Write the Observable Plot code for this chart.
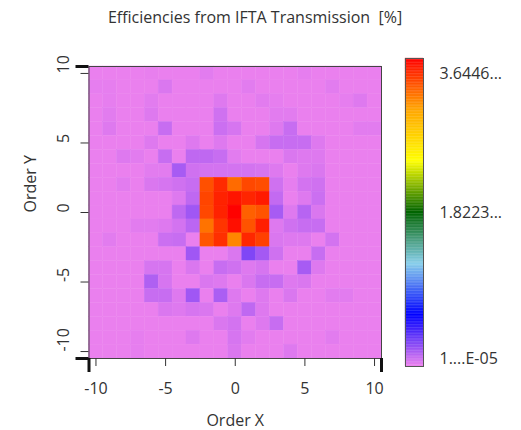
<!DOCTYPE html>
<html>
<head>
<meta charset="utf-8">
<script src="https://cdn.jsdelivr.net/npm/d3@7"></script>
<script src="https://cdn.jsdelivr.net/npm/@observablehq/plot@0.6"></script>
<style>
  html, body { margin: 0; padding: 0; background: #fff; }
  #wrap { position: relative; width: 521px; height: 430px; font-family: "Open Sans", sans-serif; color: #333; }
  #title { position: absolute; left: 0; top: 6px; width: 510px; text-align: center; font-size: 16px; line-height: 22px; white-space: pre; color: #333; }
  #main { position: absolute; left: 0; top: 35px; }
  #bar { position: absolute; left: 390px; top: 40px; }
</style>
</head>
<body>
<div id="wrap">
  <div id="title"></div>
  <div id="main"></div>
  <div id="bar"></div>
</div>
<script>
const titleText = "Efficiencies from IFTA Transmission  [%]";
const xLabel = "Order X";
const yLabel = "Order Y";
const orderX = [-10,-9,-8,-7,-6,-5,-4,-3,-2,-1,0,1,2,3,4,5,6,7,8,9,10];
const orderY = [10,9,8,7,6,5,4,3,2,1,0,-1,-2,-3,-4,-5,-6,-7,-8,-9,-10];
const xTicks = [-10,-5,0,5,10];
const yTicks = [-10,-5,0,5,10];
const colorMax = 3.6446;
const colorbarValues = [3.6446, 1.8223, 0.00001];
const colorbarLabels = ["3.6446...", "1.8223...", "1....E-05"];
const rampColors = ["#EE82EE","#0000FF","#87CEEB","#006400","#FFFF00","#FFA500","#FF0000"];

// efficiency [%], rows from Order Y = 10 (top) to -10 (bottom), columns Order X = -10..10
const efficiencyRows = [
[0.01,0.01,0.01,0.01,0.015,0.01,0.01,0.01,0.03,0.01,0.01,0.01,0.01,0.01,0.01,0.02,0.01,0.01,0.01,0.01,0.01],
[0.02,0.02,0.01,0.01,0.01,0.05,0.01,0.01,0.01,0.01,0.01,0.03,0.01,0.01,0.01,0.01,0.01,0.03,0.01,0.01,0.01],
[0.01,0.02,0.01,0.01,0.03,0.01,0.01,0.01,0.01,0.04,0.01,0.01,0.03,0.02,0.01,0.01,0.01,0.01,0.02,0.04,0.01],
[0.01,0.03,0.01,0.01,0.04,0.01,0.01,0.01,0.01,0.08,0.01,0.01,0.01,0.03,0.03,0.01,0.01,0.01,0.01,0.01,0.01],
[0.01,0.04,0.01,0.01,0.01,0.10,0.01,0.01,0.01,0.09,0.06,0.01,0.01,0.04,0.10,0.01,0.01,0.01,0.01,0.03,0.03],
[0.01,0.01,0.01,0.01,0.04,0.01,0.01,0.04,0.01,0.04,0.01,0.01,0.06,0.10,0.10,0.10,0.04,0.01,0.01,0.01,0.01],
[0.01,0.01,0.04,0.03,0.01,0.10,0.01,0.12,0.12,0.10,0.03,0.01,0.01,0.01,0.05,0.04,0.04,0.01,0.01,0.01,0.01],
[0.01,0.01,0.01,0.01,0.03,0.03,0.18,0.08,0.07,0.07,0.07,0.07,0.06,0.04,0.01,0.04,0.05,0.01,0.01,0.01,0.01],
[0.01,0.01,0.03,0.01,0.05,0.06,0.08,0.10,3.35,3.49,3.25,3.38,3.36,0.08,0.02,0.07,0.08,0.01,0.01,0.01,0.01],
[0.01,0.01,0.01,0.01,0.01,0.01,0.04,0.12,3.39,3.52,3.57,3.51,3.55,0.11,0.01,0.04,0.09,0.01,0.01,0.01,0.01],
[0.01,0.01,0.01,0.01,0.01,0.01,0.12,0.20,3.38,3.52,3.64,3.29,3.34,0.18,0.04,0.14,0.05,0.01,0.01,0.01,0.01],
[0.01,0.01,0.01,0.03,0.03,0.04,0.07,0.13,3.22,3.45,3.59,3.34,3.53,0.04,0.08,0.10,0.10,0.01,0.01,0.01,0.01],
[0.01,0.03,0.01,0.01,0.01,0.09,0.10,0.01,3.33,3.47,3.15,3.50,3.41,0.05,0.04,0.04,0.01,0.07,0.01,0.01,0.01],
[0.01,0.01,0.01,0.01,0.01,0.01,0.01,0.20,0.01,0.01,0.05,0.28,0.19,0.08,0.01,0.01,0.10,0.01,0.01,0.01,0.01],
[0.01,0.01,0.01,0.01,0.06,0.06,0.01,0.05,0.01,0.10,0.08,0.04,0.06,0.01,0.01,0.18,0.04,0.01,0.01,0.01,0.01],
[0.01,0.01,0.01,0.01,0.16,0.06,0.01,0.01,0.05,0.04,0.01,0.05,0.10,0.10,0.04,0.05,0.01,0.01,0.01,0.01,0.01],
[0.01,0.01,0.01,0.01,0.10,0.10,0.04,0.20,0.01,0.17,0.04,0.01,0.04,0.01,0.05,0.01,0.01,0.03,0.03,0.01,0.01],
[0.01,0.01,0.01,0.01,0.01,0.05,0.04,0.06,0.05,0.01,0.04,0.12,0.04,0.01,0.01,0.01,0.01,0.01,0.01,0.01,0.01],
[0.01,0.01,0.01,0.01,0.01,0.01,0.01,0.01,0.01,0.05,0.07,0.01,0.04,0.10,0.01,0.01,0.01,0.01,0.01,0.01,0.01],
[0.01,0.01,0.01,0.02,0.01,0.01,0.01,0.04,0.01,0.01,0.06,0.03,0.01,0.01,0.01,0.01,0.01,0.03,0.01,0.01,0.01],
[0.01,0.01,0.01,0.02,0.01,0.01,0.01,0.01,0.01,0.01,0.05,0.01,0.01,0.01,0.04,0.01,0.01,0.01,0.01,0.01,0.01]
];

const cells = [];
orderY.forEach((yv, j) => orderX.forEach((xv, i) => cells.push({x: xv, y: yv, v: efficiencyRows[j][i]})));

const colorOpts = {
  type: "linear",
  domain: rampColors.map((_, i) => colorMax * i / (rampColors.length - 1)),
  range: rampColors,
  interpolate: "rgb",
  clamp: true
};

document.getElementById("title").textContent = titleText;

const fmt = d => String(d);
const main = Plot.plot({
  width: 521,
  height: 395,
  marginTop: 31,
  marginBottom: 72,
  marginLeft: 88.5,
  marginRight: 140,
  style: {fontFamily: "Open Sans, sans-serif", fontSize: "16px", color: "#333", background: "transparent"},
  x: {domain: [-10.5, 10.5], label: null},
  y: {domain: [-10.5, 10.5], label: null},
  color: colorOpts,
  marks: [
    Plot.rect(cells, {x1: d => d.x - 0.5, x2: d => d.x + 0.5, y1: d => d.y - 0.5, y2: d => d.y + 0.5, fill: "v", stroke: "v", strokeWidth: 0.4}),
    Plot.frame({stroke: "#444"}),
    Plot.axisX(xTicks, {tickSize: 8, tickPadding: 16, tickFormat: fmt, fontSize: 16, label: null, stroke: "#333"}),
    Plot.axisX([-10.5, 10.5], {tickSize: 14, strokeWidth: 3, stroke: "#111", tickFormat: () => "", label: null}),
    Plot.axisY(yTicks, {tickSize: 8, tickFormat: () => "", label: null, stroke: "#333"}),
    Plot.axisY([-10.5, 10.5], {tickSize: 13, strokeWidth: 3, stroke: "#111", tickFormat: () => "", label: null}),
    Plot.text(yTicks, {y: d => d, text: fmt, frameAnchor: "left", dx: -25, rotate: -90, fontSize: 16, fill: "#333"}),
    Plot.text([xLabel], {text: d => d, frameAnchor: "bottom", dy: 67, fontSize: 16, fill: "#333"}),
    Plot.text([yLabel], {text: d => d, frameAnchor: "left", dx: -58, rotate: -90, fontSize: 16, fill: "#333"})
  ]
});
document.getElementById("main").appendChild(main);

const nStrips = 200;
const strips = d3.range(nStrips).map(i => ({y1: colorMax * i / nStrips, y2: colorMax * (i + 1) / nStrips, v: colorMax * (i + 0.5) / nStrips}));
const labelShift = [15, 0, -8];
const bar = Plot.plot({
  width: 131,
  height: 340,
  marginTop: 18,
  marginBottom: 14,
  marginLeft: 15,
  marginRight: 98,
  style: {fontFamily: "Open Sans, sans-serif", fontSize: "16px", color: "#333", background: "transparent", overflow: "visible"},
  x: {axis: null},
  y: {domain: [0, colorMax], axis: null},
  color: colorOpts,
  marks: [
    Plot.rect(strips, {y1: "y1", y2: "y2", fill: "v", stroke: "v", strokeWidth: 0.3}),
    Plot.frame({stroke: "#555"}),
    ...colorbarLabels.map((t, i) => Plot.text([t], {y: () => colorbarValues[i], text: d => d, frameAnchor: "right", dx: 16, dy: labelShift[i], textAnchor: "start", fontSize: 16, fill: "#333"}))
  ]
});
document.getElementById("bar").appendChild(bar);
</script>
</body>
</html>
